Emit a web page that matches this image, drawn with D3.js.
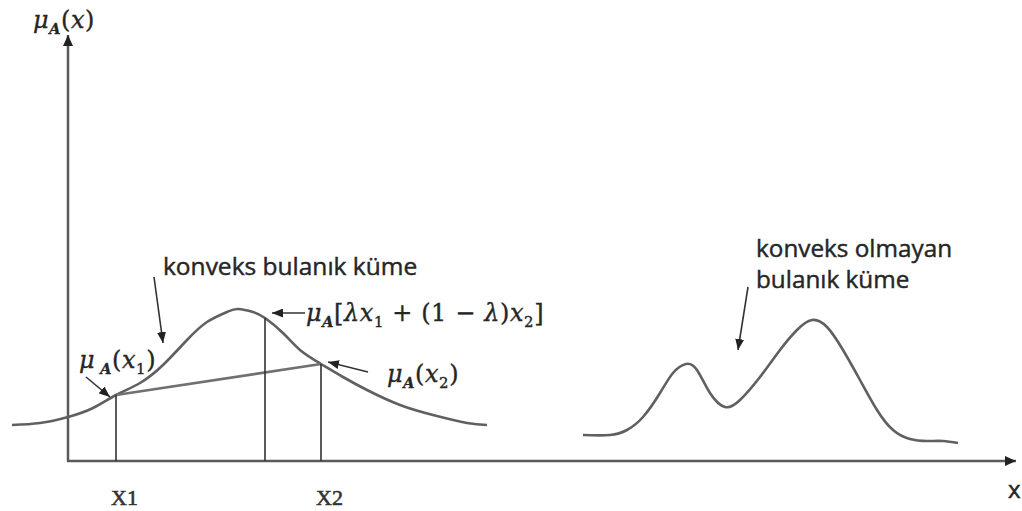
<!DOCTYPE html>
<html>
<head>
<meta charset="utf-8">
<script src="https://cdn.jsdelivr.net/npm/d3@7"></script>
<style>
  html, body { margin: 0; padding: 0; background: #fff; }
  svg { display: block; }
  .math { font-family: "DejaVu Serif", "Liberation Serif", serif; fill: #262626; stroke: #262626; stroke-width: 0.35; }
  .tick { font-family: "Liberation Serif", "DejaVu Serif", serif; fill: #333; stroke: #333; stroke-width: 0.6; text-transform: uppercase; }
  .note { font-family: "Open Sans", "Liberation Sans", sans-serif; fill: #262626; stroke: #262626; stroke-width: 0.45; }
</style>
</head>
<body>
<svg id="chart" width="1022" height="511"></svg>
<script>
// Convex fuzzy set: membership along x
const convexX  = [-1.12, -0.56, 0, 0.5, 0.96, 1.44, 1.9, 2.38, 2.78, 3.18, 3.4, 3.7, 3.94, 4.3, 4.64, 5.06, 5.5, 5.98, 6.64, 7.3, 7.98, 8.38];
const convexMu = [0.18, 0.19, 0.22, 0.265, 0.33, 0.39, 0.48, 0.605, 0.695, 0.745, 0.76, 0.745, 0.715, 0.64, 0.555, 0.485, 0.42, 0.355, 0.28, 0.23, 0.19, 0.18];

// Non-convex fuzzy set (two humps)
const nonConvexX  = [10.3, 10.84, 11.18, 11.5, 11.84, 12.1, 12.36, 12.58, 12.84, 13.14, 13.44, 13.84, 14.24, 14.58, 14.88, 15.18, 15.5, 15.84, 16.18, 16.5, 16.84, 17.18, 17.5, 17.8];
const nonConvexMu = [0.13, 0.13, 0.155, 0.22, 0.34, 0.44, 0.485, 0.455, 0.34, 0.27, 0.305, 0.42, 0.555, 0.655, 0.705, 0.67, 0.555, 0.405, 0.255, 0.155, 0.11, 0.1, 0.1, 0.09];

// Points x1, x2 and the point λx1 + (1-λ)x2 between them
const pointNames = ["x1", "x2", "mid"];
const pointX  = [0.96, 5.06, 3.94];
const pointMu = [0.33, 0.485, 0.715];

// Axis point labels and axis name
const tickLabels = ["x1", "x2"];
const axisName = "x";

const svg = d3.select("#chart");

const x = d3.scaleLinear().domain([0, 19]).range([68, 1018]);
const y = d3.scaleLinear().domain([0, 1]).range([461, 261]);

// arrow heads
const defs = svg.append("defs");
function marker(id, w, h, color) {
  defs.append("marker")
    .attr("id", id)
    .attr("viewBox", `0 0 ${w} ${h}`)
    .attr("refX", w).attr("refY", h / 2)
    .attr("markerWidth", w).attr("markerHeight", h)
    .attr("markerUnits", "userSpaceOnUse")
    .attr("orient", "auto")
    .append("path")
    .attr("d", `M0,0 L${w},${h / 2} L0,${h} Z`)
    .attr("fill", color);
}
marker("axisHead", 11, 10, "#222");
marker("noteHead", 11, 9, "#222");

// axes
const x0 = x(0), y0 = y(0);
svg.append("line")
  .attr("x1", x0).attr("y1", y0).attr("x2", x0).attr("y2", y(2.13))
  .attr("stroke", "#5a5a5a").attr("stroke-width", 2.5)
  .attr("marker-end", "url(#axisHead)");
svg.append("line")
  .attr("x1", x0 - 1).attr("y1", y0).attr("x2", x(18.96)).attr("y2", y0)
  .attr("stroke", "#5a5a5a").attr("stroke-width", 2.5)
  .attr("marker-end", "url(#axisHead)");

const line = d3.line()
  .x(d => x(d[0])).y(d => y(d[1]))
  .curve(d3.curveNatural);

// convex curve
svg.append("path")
  .datum(d3.zip(convexX, convexMu))
  .attr("d", line)
  .attr("fill", "none").attr("stroke", "#606060").attr("stroke-width", 2.6);

// non-convex curve
svg.append("path")
  .datum(d3.zip(nonConvexX, nonConvexMu))
  .attr("d", line)
  .attr("fill", "none").attr("stroke", "#606060").attr("stroke-width", 2.6);

// chord between (x1, μ(x1)) and (x2, μ(x2))
svg.append("line")
  .attr("x1", x(pointX[0])).attr("y1", y(pointMu[0]))
  .attr("x2", x(pointX[1])).attr("y2", y(pointMu[1]))
  .attr("stroke", "#707070").attr("stroke-width", 2.6);

// verticals at x1, mid, x2
svg.selectAll("line.drop")
  .data(d3.zip(pointX, pointMu))
  .join("line")
  .attr("class", "drop")
  .attr("x1", d => x(d[0])).attr("x2", d => x(d[0]))
  .attr("y1", y0).attr("y2", d => y(d[1]))
  .attr("stroke", "#333").attr("stroke-width", 1.6);

// pointer arrows
function pointer(fx, fy, tx, ty) {
  svg.append("line")
    .attr("x1", x(fx)).attr("y1", y(fy)).attr("x2", x(tx)).attr("y2", y(ty))
    .attr("stroke", "#333").attr("stroke-width", 1.6)
    .attr("marker-end", "url(#noteHead)");
}
pointer(1.72, 0.92, 1.9, 0.59);     // konveks bulanık küme
pointer(13.6, 0.87, 13.4, 0.555);   // konveks olmayan
pointer(0.36, 0.42, 0.84, 0.32);    // μA(x1)
pointer(4.74, 0.74, 4.08, 0.74);    // mid
pointer(6.0, 0.445, 5.2, 0.495);    // μA(x2)

// math labels: μ with bold subscript A followed by the argument
function mu(px, py, size, parts, gap) {
  const t = svg.append("text").attr("class", "math")
    .attr("x", px).attr("y", py).attr("font-size", size)
    .attr("letter-spacing", 0.6);
  t.append("tspan").attr("font-style", "italic").text("μ");
  t.append("tspan").attr("font-style", "italic").attr("font-weight", "bold")
    .attr("font-size", size * 0.6).attr("dx", gap || 0).attr("dy", size * 0.26).text("A");
  let first = true;
  parts.forEach(p => {
    const s = t.append("tspan").text(p.t);
    if (first) { s.attr("dy", -size * 0.26); first = false; }
    if (p.i) s.attr("font-style", "italic");
    if (p.sub) s.attr("font-size", size * 0.62).attr("dy", size * 0.24);
    if (p.up) s.attr("dy", -size * 0.24);
  });
  return t;
}

mu(33, 28, 24, [{t: "("}, {t: "x", i: true}, {t: ")"}]);
mu(306, 321, 24, [
  {t: "["}, {t: "λx", i: true}, {t: "1", sub: true},
  {t: " + (1 − ", up: true}, {t: "λ", i: true}, {t: ")"}, {t: "x", i: true},
  {t: "2", sub: true}, {t: "]", up: true}
]);
mu(387, 382, 24, [{t: "("}, {t: "x", i: true}, {t: "2", sub: true}, {t: ")", up: true}]);
mu(79, 368, 24, [{t: "("}, {t: "x", i: true}, {t: "1", sub: true}, {t: ")", up: true}], 5);

// axis point labels
svg.selectAll("text.tick")
  .data(d3.zip(tickLabels, pointX.slice(0, 2)))
  .join("text")
  .attr("class", "tick")
  .attr("font-size", 22)
  .attr("x", d => x(d[1]) - 5).attr("y", 505)
  .text(d => d[0]);
svg.append("text").attr("class", "note").attr("font-size", 24)
  .attr("x", 1008).attr("y", 498).text(axisName);

// annotation notes
svg.append("text").attr("class", "note").attr("font-size", 24.5)
  .attr("x", 163).attr("y", 275).text("konveks bulanık küme");
svg.append("text").attr("class", "note").attr("font-size", 24.3)
  .attr("x", 756).attr("y", 257).text("konveks olmayan");
svg.append("text").attr("class", "note").attr("font-size", 24.3)
  .attr("x", 756).attr("y", 288).text("bulanık küme");
</script>
</body>
</html>
